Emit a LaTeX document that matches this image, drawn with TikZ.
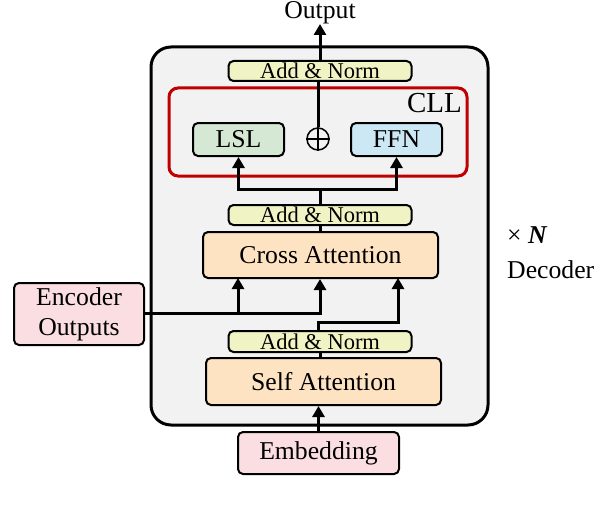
\documentclass[tikz,border=0pt]{standalone}
\usepackage{fontspec}
\setmainfont{Liberation Serif}
\usetikzlibrary{arrows.meta}
\definecolor{anfill}{RGB}{240,243,196}
\definecolor{orfill}{RGB}{253,227,193}
\definecolor{grfill}{RGB}{213,232,212}
\definecolor{blfill}{RGB}{205,232,245}
\definecolor{pkfill}{RGB}{250,222,225}
\definecolor{bgfill}{RGB}{242,242,242}
\definecolor{cllred}{RGB}{192,0,0}
\begin{document}
\begin{tikzpicture}[x=1pt,y=-1pt,
  box/.style={draw=black, line width=2pt, rounded corners=5pt, inner sep=0pt, align=center, font=\fontsize{25.7}{27}\selectfont},
  anbox/.style={box, fill=anfill, minimum width=183pt, minimum height=20pt, font=\fontsize{22.5}{24}\selectfont},
  arr/.style={line width=3pt, -{Triangle[length=11pt,width=12pt]}},
  ln/.style={line width=3pt}]
\useasboundingbox (0,0) rectangle (596,508);
% main decoder box
\node[draw=black, line width=3pt, rounded corners=20pt, fill=bgfill, minimum width=337pt, minimum height=378pt, inner sep=0pt] (main) at (319.5,236) {};
% CLL box
\node[draw=cllred, line width=3pt, rounded corners=9pt, minimum width=298pt, minimum height=88pt, inner sep=0pt] (cll) at (318,132) {};
\node[anchor=north east, font=\fontsize{29}{31}\selectfont, inner sep=0pt] (clllab) at (462,93) {CLL};
% top part
\node[anchor=base, font=\fontsize{25.7}{27}\selectfont, inner sep=0pt] (out) at (320,19) {Output};
\coordinate (outtip) at (320,24);
\node[anbox] (addtop) at (320,71) {Add \& Norm};
\node[box, fill=grfill, minimum width=91pt, minimum height=33pt] (lsl) at (238.5,139.5) {LSL};
\node[box, fill=blfill, minimum width=91pt, minimum height=33pt] (ffn) at (396.5,139.5) {FFN};
\node[draw=black, line width=1.5pt, circle, minimum size=22pt, inner sep=0pt] (plus) at (318,139) {};
\draw[line width=1.5pt] (plus.north) -- (plus.south) (plus.west) -- (plus.east);
% middle
\node[anbox] (addmid) at (320,215) {Add \& Norm};
\node[box, fill=orfill, minimum width=235pt, minimum height=46pt] (cross) at (320.5,255) {Cross Attention};
% lower
\node[anbox, minimum height=21pt] (addlow) at (320,341.5) {Add \& Norm};
\node[box, fill=orfill, minimum width=235pt, minimum height=47pt] (self) at (323.5,381.5) {Self Attention};
\node[box, fill=pkfill, minimum width=161pt, minimum height=42pt] (emb) at (318.5,453) {Embedding};
\node[box, fill=pkfill, minimum width=130pt, minimum height=62pt, font=\fontsize{25.7}{30}\selectfont] (enc) at (79,314) {Encoder\\Outputs};
% side labels
\node[anchor=west, inner sep=0pt, font=\fontsize{25.7}{27}\selectfont] (xn) at (507,235) {× \textbf{\textit{N}}};
\node[anchor=west, inner sep=0pt, font=\fontsize{25.7}{27}\selectfont] (dec) at (507,270) {Decoder};
% connectors
\coordinate (cllsplit) at (320,189);
\coordinate (encjoin) at (320,313);
\coordinate (lowturn) at (318,322);
\draw[arr] (addtop.north) -- (outtip);
\draw[ln] (plus.north) -- (plus.north |- addtop.south);
\draw[ln] (cross.north -| addmid.south) -- (addmid.south);
\draw[ln] (addmid.north) -- (cllsplit);
\draw[arr] (cllsplit) -| (lsl.south);
\draw[arr] (cllsplit) -| (ffn.south);
\draw[ln] (self.north -| addlow.south) -- (addlow.south);
\draw[arr] (emb.north) -- (emb.north |- self.south);
\draw[arr] (enc.east |- encjoin) -- (encjoin) -- (encjoin |- cross.south);
\draw[arr] (enc.east |- encjoin) -| (238,278);
\draw[arr] (addlow.north -| lowturn) -- (lowturn) -| (398,278);
\end{tikzpicture}
\end{document}
